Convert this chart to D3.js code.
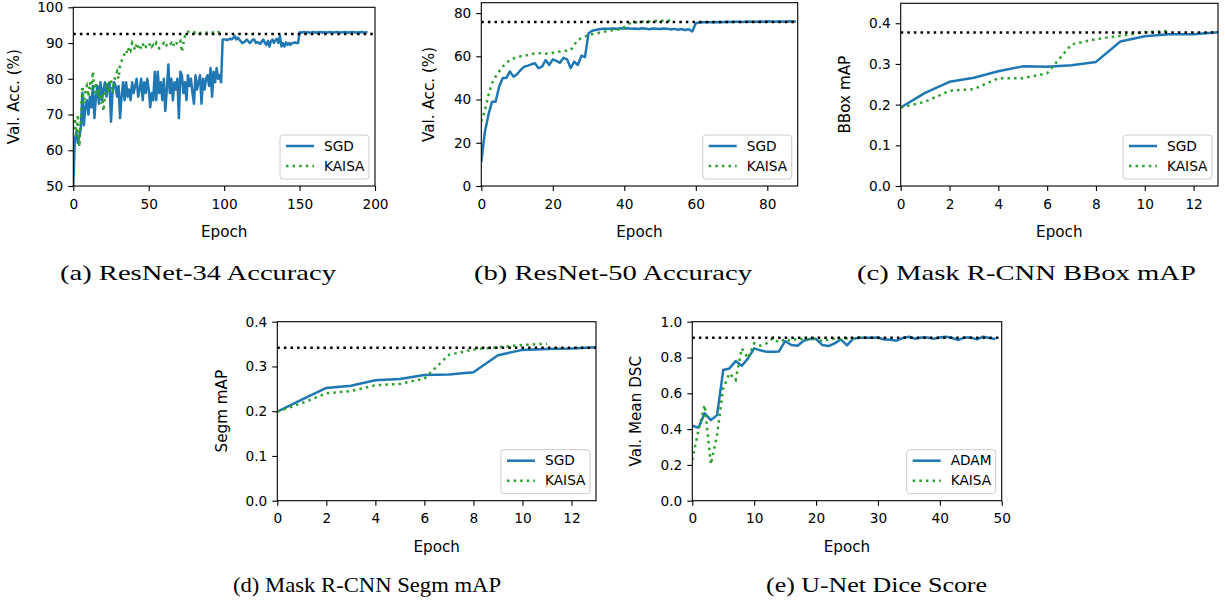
<!DOCTYPE html>
<html>
<head>
<meta charset="utf-8">
<script src="https://cdn.jsdelivr.net/npm/d3@7"></script>
<style>
  body { margin: 0; background: #fff; }
  svg { display: block; }
</style>
</head>
<body>
<svg id="chart" width="1225" height="605"></svg>
<script>
"use strict";

// (a) ResNet-34 accuracy, one value per epoch
var sgdA = [
	50, 63, 65, 62, 64, 66, 76, 67, 72, 74,
	70, 75, 72, 78, 69, 75, 78, 73, 79, 74,
	77, 79, 75, 78, 79, 68, 76, 79, 78, 75,
	78, 69, 75, 79, 74, 79, 75, 77, 74, 79,
	76, 78, 80, 75, 77, 80, 74, 79, 76, 80,
	77, 72, 76, 74, 82, 74, 82, 76, 79, 74,
	80, 71, 77, 84, 76, 80, 74, 79, 77, 80,
	69, 82, 81, 76, 79, 74, 81, 78, 80, 76,
	73, 81, 77, 79, 81, 73, 80, 77, 80, 81,
	78, 83, 75, 82, 79, 83, 80, 81, 79, 91,
	91, 91, 90.8, 91, 91.2, 91, 91.4, 92, 91, 91.5,
	91, 90.5, 90, 90.2, 90.5, 91, 90.5, 90, 90.4, 91,
	91, 90, 90.3, 90, 89.8, 90.5, 91, 90, 89.5, 90.6,
	89, 90.5, 91, 90, 90.8, 91.2, 90, 92, 89, 90,
	89, 90.2, 89.5, 90, 89.5, 90, 90, 90.2, 90, 90,
	93, 92.9, 93, 93.1, 92.9, 93, 93, 92.8, 93, 93.1,
	93, 92.9, 93, 93, 93.1, 92.9, 93, 93, 92.9, 93,
	93.1, 93, 92.9, 93, 93, 93.1, 93, 92.9, 93, 93,
	93.1, 93, 92.9, 93, 93, 93.1, 93, 93, 92.9, 93,
	93, 93.1, 93, 92.9, 93, 93
];
var kaisaA = [
	66, 69, 64, 70, 61, 68, 78, 73, 77, 78,
	75, 79, 77, 82, 76, 79, 75, 77, 73, 76,
	71, 75, 79, 76, 78, 80, 76, 79, 81, 82,
	80, 84, 85, 86, 87, 88, 87, 89, 88, 90,
	89, 88, 90, 89, 88, 89, 90, 88.5, 89, 88.5,
	89, 90, 89, 89.5, 89, 90, 89, 88.5, 89, 89.5,
	90, 89, 89.5, 90, 89.5, 90, 89, 90, 90.5, 89.5,
	90, 90.5, 87.5, 90, 92, 93, 93.2, 93, 92.8, 93.1,
	93, 92.9, 93.2, 93, 92.8, 93, 93.1, 93, 92.9, 93,
	93.2, 93, 92.9, 93, 93.1, 92.8, 93, 93, 93.1
];
var targetA = 92.5;

// (b) ResNet-50 accuracy
var sgdB = [
	11, 25, 33, 39, 39, 46, 50, 50, 53, 50.6,
	51.7, 53.7, 55.2, 55.7, 56.3, 56.8, 54.5, 55.2, 58.3, 56,
	58.6, 57.9, 57, 59.3, 58.6, 54.5, 57.5, 56, 60.3, 59.6,
	70.7, 71.8, 72.2, 72.5, 72.7, 72.7, 72.8, 72.9, 72.8, 73,
	72.9, 73, 72.7, 72.9, 72.6, 73, 72.8, 72.5, 72.9, 72.7,
	72.6, 72.9, 72.8, 72.4, 72.7, 72.3, 72.6, 72.2, 72.5, 71.5,
	75.3, 75.6, 75.7, 75.8, 75.7, 75.8, 75.9, 75.8, 75.9, 76,
	75.9, 76, 76, 75.9, 76, 76.1, 76, 76, 76.1, 76,
	76.2, 76.1, 76, 76.1, 76.1, 76, 76.2, 76.1, 76.1
];
var kaisaB = [
	29.8, 35, 42, 47.5, 50.6, 53, 55.2, 56.8, 58.3, 59,
	59.4, 60, 60.3, 60.6, 61, 61.4, 61.5, 61.3, 61.2, 61.3,
	61.6, 61.9, 62.2, 62.5, 62.6, 62.8, 65.3, 67.6, 68.4, 69.1,
	69.9, 70.2, 70.5, 70.9, 71.3, 71.6, 71.9, 72.1, 72.3, 72.6,
	73.5, 75, 75.5, 75.6, 75.8, 76, 76.2, 76.1, 76.3, 76.4,
	76.5, 76.4, 76.6, 76.5
];
var targetB = 75.9;

// (c) Mask R-CNN bbox mAP
var sgdC = [0.193, 0.229, 0.256, 0.266, 0.282, 0.294, 0.293, 0.297, 0.305, 0.355, 0.368, 0.373, 0.373, 0.378];
var kaisaC = [0.193, 0.207, 0.234, 0.238, 0.265, 0.265, 0.277, 0.348, 0.361, 0.369, 0.378, 0.381];
var targetC = 0.377;

// (d) Mask R-CNN segm mAP
var sgdD = [0.199, 0.226, 0.252, 0.257, 0.269, 0.272, 0.281, 0.282, 0.287, 0.325, 0.337, 0.339, 0.340, 0.343];
var kaisaD = [0.199, 0.218, 0.240, 0.245, 0.258, 0.261, 0.273, 0.326, 0.338, 0.343, 0.348, 0.351];
var targetD = 0.342;

// (e) U-Net dice score
var adamE = [
	0.419, 0.408, 0.488, 0.45, 0.478, 0.73, 0.739, 0.78, 0.754, 0.795,
	0.851, 0.84, 0.832, 0.832, 0.834, 0.892, 0.87, 0.866, 0.894, 0.903,
	0.903, 0.87, 0.864, 0.879, 0.901, 0.868, 0.905, 0.91, 0.91, 0.91,
	0.912, 0.9, 0.899, 0.894, 0.909, 0.916, 0.905, 0.912, 0.912, 0.905,
	0.912, 0.916, 0.909, 0.898, 0.912, 0.912, 0.901, 0.916, 0.909, 0.903
];
var kaisaE = [
	0.227, 0.395, 0.534, 0.203, 0.367, 0.628, 0.711, 0.674, 0.851, 0.795,
	0.879, 0.866, 0.879, 0.907, 0.885, 0.903, 0.892, 0.907, 0.9, 0.903,
	0.905, 0.89, 0.9, 0.905, 0.9, 0.907, 0.905, 0.91, 0.912
];
var targetE = 0.91;

var ticksA = { x: [0, 50, 100, 150, 200], y: [50, 60, 70, 80, 90, 100] };
var ticksB = { x: [0, 20, 40, 60, 80], y: [0, 20, 40, 60, 80] };
var ticksMap = { x: [0, 2, 4, 6, 8, 10, 12], y: [0, 0.1, 0.2, 0.3, 0.4] };
var ticksE = { x: [0, 10, 20, 30, 40, 50], y: [0, 0.2, 0.4, 0.6, 0.8, 1.0] };

var captions = [
	"(a) ResNet-34 Accuracy", "(b) ResNet-50 Accuracy", "(c) Mask R-CNN BBox mAP",
	"(d) Mask R-CNN Segm mAP", "(e) U-Net Dice Score"
];

var BLUE = "#1f77b4", GREEN = "#2ca02c";
var SANS = "DejaVu Sans";

var svg = d3.select("#chart");
svg.append("rect").attr("width", 1225).attr("height", 605).attr("fill", "#fff");

function drawPanel(p, idx) {
	var x = d3.scaleLinear().domain(p.xDomain).range([p.left, p.right]);
	var y = d3.scaleLinear().domain(p.yDomain).range([p.bottom, p.top]);
	var g = svg.append("g");

	var clipId = "clip" + idx;
	svg.append("clipPath").attr("id", clipId).append("rect")
		.attr("x", p.left).attr("y", p.top)
		.attr("width", p.right - p.left).attr("height", p.bottom - p.top);

	var xAxis = g.append("g").attr("transform", "translate(0," + p.bottom + ")")
		.call(d3.axisBottom(x).tickValues(p.ticks.x).tickSize(5).tickPadding(8).tickFormat(d3.format("d")));
	var yAxis = g.append("g").attr("transform", "translate(" + p.left + ",0)")
		.call(d3.axisLeft(y).tickValues(p.ticks.y).tickSize(5).tickPadding(5).tickFormat(d3.format(p.yFmt)));
	[xAxis, yAxis].forEach(function(ax) {
		ax.select(".domain").remove();
		ax.selectAll("line").attr("stroke", "#000").attr("stroke-width", 1.1);
		ax.selectAll("text").attr("font-family", SANS).attr("font-size", 13.7).attr("fill", "#000");
	});

	var plot = g.append("g").attr("clip-path", "url(#" + clipId + ")");
	var line = d3.line().x(function(d, i) { return x(i); }).y(function(d) { return y(d); });

	plot.append("path").datum(p.base).attr("d", line)
		.attr("fill", "none").attr("stroke", BLUE).attr("stroke-width", 2.5)
		.attr("stroke-linejoin", "round");
	plot.append("path").datum(p.kaisa).attr("d", line)
		.attr("fill", "none").attr("stroke", GREEN).attr("stroke-width", 2.5)
		.attr("stroke-dasharray", "2.5,4.1");
	plot.append("line")
		.attr("x1", x(p.xDomain[0])).attr("x2", x(p.xDomain[1]))
		.attr("y1", y(p.target)).attr("y2", y(p.target))
		.attr("stroke", "#000").attr("stroke-width", 2.5).attr("stroke-dasharray", "2.5,4.1");

	g.append("rect")
		.attr("x", p.left).attr("y", p.top)
		.attr("width", p.right - p.left).attr("height", p.bottom - p.top)
		.attr("fill", "none").attr("stroke", "#000").attr("stroke-width", 1.1);

	// legend, lower right
	var lw = 89, lh = 44;
	var lx = p.right - 6 - lw, ly = p.bottom - 7 - lh;
	var leg = g.append("g");
	leg.append("rect").attr("x", lx).attr("y", ly).attr("width", lw).attr("height", lh)
		.attr("rx", 3).attr("fill", "#fff").attr("fill-opacity", 0.8)
		.attr("stroke", "#cccccc").attr("stroke-width", 1);
	var items = [
		{ name: p.baseName, color: BLUE, dash: null },
		{ name: "KAISA", color: GREEN, dash: "2.5,4.1" }
	];
	items.forEach(function(it, i) {
		var yy = ly + 11 + i * 20;
		leg.append("line").attr("x1", lx + 6).attr("x2", lx + 34).attr("y1", yy).attr("y2", yy)
			.attr("stroke", it.color).attr("stroke-width", 2.5).attr("stroke-dasharray", it.dash);
		leg.append("text").attr("x", lx + 44).attr("y", yy).attr("dy", "0.35em")
			.attr("font-family", SANS).attr("font-size", 13.7).text(it.name);
	});

	// axis labels
	g.append("text").attr("x", (p.left + p.right) / 2).attr("y", p.bottom + 51)
		.attr("text-anchor", "middle").attr("font-family", SANS).attr("font-size", 15.2)
		.text("Epoch");
	var cy = (p.top + p.bottom) / 2, cx = p.left - p.ylabelOff;
	g.append("text").attr("transform", "translate(" + cx + "," + cy + ") rotate(-90)")
		.attr("text-anchor", "middle").attr("font-family", SANS).attr("font-size", 15.2)
		.text(p.ylabel);

	// caption
	g.append("text").attr("x", p.capX).attr("y", p.capY)
		.attr("text-anchor", "middle").attr("font-family", "Liberation Serif").attr("font-size", 22)
		.attr("textLength", p.capW).attr("lengthAdjust", "spacingAndGlyphs")
		.text(captions[idx]);
}

var panels = [
	{ left: 73.3, right: 375, top: 7.3, bottom: 186, xDomain: [0, 200], yDomain: [50, 100],
	  base: sgdA, kaisa: kaisaA, target: targetA, baseName: "SGD", ticks: ticksA, yFmt: "d",
	  ylabel: "Val. Acc. (%)", ylabelOff: 54.5, capX: 198, capY: 280, capW: 276 },
	{ left: 481.3, right: 797.7, top: 2.7, bottom: 186, xDomain: [0, 88.5], yDomain: [0, 84.8],
	  base: sgdB, kaisa: kaisaB, target: targetB, baseName: "SGD", ticks: ticksB, yFmt: "d",
	  ylabel: "Val. Acc. (%)", ylabelOff: 47, capX: 613, capY: 280, capW: 278 },
	{ left: 900.7, right: 1218, top: 3.3, bottom: 186, xDomain: [0, 13], yDomain: [0, 0.449],
	  base: sgdC, kaisa: kaisaC, target: targetC, baseName: "SGD", ticks: ticksMap, yFmt: ".1f",
	  ylabel: "BBox mAP", ylabelOff: 50.4, capX: 1026.5, capY: 280, capW: 339 },
	{ left: 277.3, right: 596, top: 321.7, bottom: 500.7, xDomain: [0, 13], yDomain: [0, 0.4],
	  base: sgdD, kaisa: kaisaD, target: targetD, baseName: "SGD", ticks: ticksMap, yFmt: ".1f",
	  ylabel: "Segm mAP", ylabelOff: 50, capX: 367, capY: 592, capW: 268 },
	{ left: 692.3, right: 1001.7, top: 321.7, bottom: 500.7, xDomain: [0, 50], yDomain: [0, 1],
	  base: adamE, kaisa: kaisaE, target: targetE, baseName: "ADAM", ticks: ticksE, yFmt: ".1f",
	  ylabel: "Val. Mean DSC", ylabelOff: 51, capX: 876.5, capY: 592, capW: 221 }
];

panels.forEach(drawPanel);
</script>
</body>
</html>
